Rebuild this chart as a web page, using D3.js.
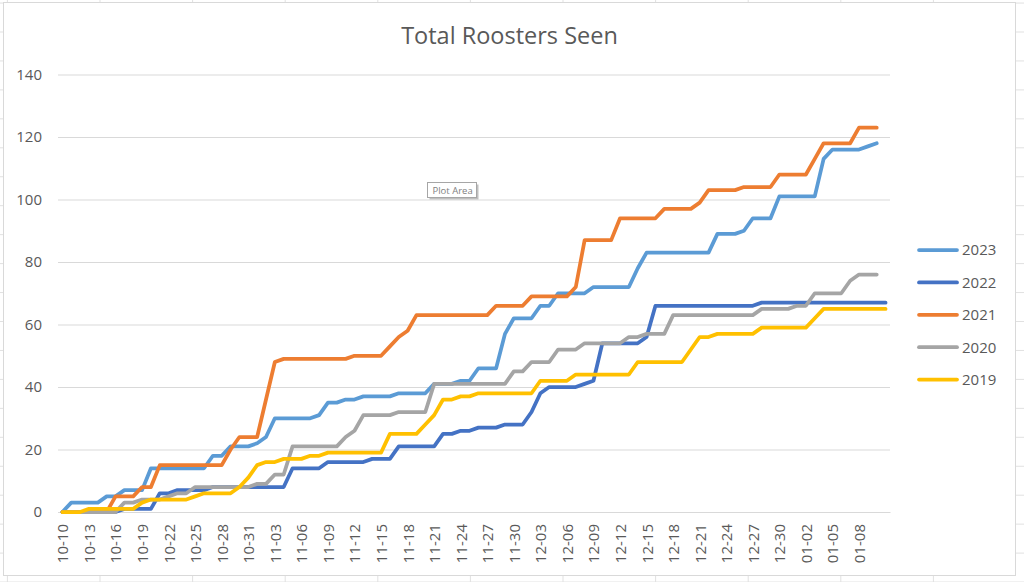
<!DOCTYPE html>
<html>
<head>
<meta charset="utf-8">
<script src="https://cdn.jsdelivr.net/npm/d3@7"></script>
<style>
    body { margin: 0; background: #fff; }
    svg text { font-family: "Open Sans", sans-serif; fill: #595959; }
</style>
</head>
<body>
<div id="chart"></div>
<script>
// categories: one per day, 10-10 through 01-11
const dates = [
    "10-10","10-11","10-12","10-13","10-14","10-15","10-16","10-17","10-18","10-19",
    "10-20","10-21","10-22","10-23","10-24","10-25","10-26","10-27","10-28","10-29",
    "10-30","10-31","11-01","11-02","11-03","11-04","11-05","11-06","11-07","11-08",
    "11-09","11-10","11-11","11-12","11-13","11-14","11-15","11-16","11-17","11-18",
    "11-19","11-20","11-21","11-22","11-23","11-24","11-25","11-26","11-27","11-28",
    "11-29","11-30","12-01","12-02","12-03","12-04","12-05","12-06","12-07","12-08",
    "12-09","12-10","12-11","12-12","12-13","12-14","12-15","12-16","12-17","12-18",
    "12-19","12-20","12-21","12-22","12-23","12-24","12-25","12-26","12-27","12-28",
    "12-29","12-30","12-31","01-01","01-02","01-03","01-04","01-05","01-06","01-07",
    "01-08","01-09","01-10","01-11"
];

// labels shown on the category axis
const tickDates = [
    "10-10","10-13","10-16","10-19","10-22","10-25","10-28","10-31","11-03","11-06",
    "11-09","11-12","11-15","11-18","11-21","11-24","11-27","11-30","12-03","12-06",
    "12-09","12-12","12-15","12-18","12-21","12-24","12-27","12-30","01-02","01-05",
    "01-08"
];

const yTicks = [0, 20, 40, 60, 80, 100, 120, 140];

// running totals per season
const s2023 = [0,3,3,3,3,5,5,7,7,7,
    14,14,14,14,14,14,14,18,18,21,
    21,21,22,24,30,30,30,30,30,31,
    35,35,36,36,37,37,37,37,38,38,
    38,38,41,41,41,42,42,46,46,46,
    57,62,62,62,66,66,70,70,70,70,
    72,72,72,72,72,78,83,83,83,83,
    83,83,83,83,89,89,89,90,94,94,
    94,101,101,101,101,101,113,116,116,116,
    116,117,118];

const s2022 = [0,0,0,0,0,0,0,1,1,1,
    1,6,6,7,7,7,7,8,8,8,
    8,8,8,8,8,8,14,14,14,14,
    16,16,16,16,16,17,17,17,21,21,
    21,21,21,25,25,26,26,27,27,27,
    28,28,28,32,38,40,40,40,40,41,
    42,54,54,54,54,54,56,66,66,66,
    66,66,66,66,66,66,66,66,66,67,
    67,67,67,67,67,67,67,67,67,67,
    67,67,67,67];

const s2021 = [0,0,0,0,0,0,5,5,5,8,
    8,15,15,15,15,15,15,15,15,20,
    24,24,24,36,48,49,49,49,49,49,
    49,49,49,50,50,50,50,53,56,58,
    63,63,63,63,63,63,63,63,63,66,
    66,66,66,69,69,69,69,69,72,87,
    87,87,87,94,94,94,94,94,97,97,
    97,97,99,103,103,103,103,104,104,104,
    104,108,108,108,108,113,118,118,118,118,
    123,123,123];

const s2020 = [0,0,0,0,0,0,0,3,3,4,
    4,4,5,6,6,8,8,8,8,8,
    8,8,9,9,12,12,21,21,21,21,
    21,21,24,26,31,31,31,31,32,32,
    32,32,41,41,41,41,41,41,41,41,
    41,45,45,48,48,48,52,52,52,54,
    54,54,54,54,56,56,57,57,57,63,
    63,63,63,63,63,63,63,63,63,65,
    65,65,65,66,66,70,70,70,70,74,
    76,76,76];

const s2019 = [0,0,0,1,1,1,1,1,1,3,
    4,4,4,4,4,5,6,6,6,6,
    8,11,15,16,16,17,17,17,18,18,
    19,19,19,19,19,19,19,25,25,25,
    25,28,31,36,36,37,37,38,38,38,
    38,38,38,38,42,42,42,42,44,44,
    44,44,44,44,44,48,48,48,48,48,
    48,52,56,56,57,57,57,57,57,59,
    59,59,59,59,59,62,65,65,65,65,
    65,65,65,65];

const seriesNames = ["2023", "2022", "2021", "2020", "2019"];
const seriesValues = [s2023, s2022, s2021, s2020, s2019];
const seriesColors = ["#5b9bd5", "#4472c4", "#ed7d31", "#a5a5a5", "#ffc000"];

const width = 1024, height = 582;
const plot = { left: 58, right: 890, top: 74.5, bottom: 512 };

const svg = d3.select("#chart").append("svg")
    .attr("width", width)
    .attr("height", height);

// spreadsheet cells peeking out behind the chart
const cells = svg.append("g").attr("stroke", "#e1e1e1").attr("stroke-width", 1);
cells.selectAll("line.v")
    .data(d3.range(-1, 11))
    .join("line")
    .attr("x1", d => 100 + d * 92.6).attr("x2", d => 100 + d * 92.6)
    .attr("y1", 0).attr("y2", height);
cells.selectAll("line.h")
    .data(d3.range(-1, 20))
    .join("line")
    .attr("x1", 0).attr("x2", width)
    .attr("y1", d => 32 + d * 28.95).attr("y2", d => 32 + d * 28.95);

// chart area
svg.append("rect")
    .attr("x", 3.5).attr("y", 2.5)
    .attr("width", 1012).attr("height", 573)
    .attr("fill", "#fff")
    .attr("stroke", "#d9d9d9");

svg.append("text")
    .attr("x", 509.5).attr("y", 44)
    .attr("text-anchor", "middle")
    .style("font-size", "23.5px")
    .text("Total Roosters Seen");

// scales
const x = d3.scalePoint()
    .domain(dates)
    .range([plot.left, plot.right])
    .padding(0.5);

const y = d3.scaleLinear()
    .domain([0, 140])
    .range([plot.bottom, plot.top]);

// value axis with gridlines
const yAxis = svg.append("g")
    .attr("transform", `translate(${plot.left},0)`)
    .call(d3.axisLeft(y)
        .tickValues(yTicks)
        .tickSize(-(plot.right - plot.left))
        .tickPadding(16));
yAxis.select(".domain").remove();
yAxis.selectAll(".tick line").attr("stroke", "#d9d9d9").attr("stroke-width", 1.2);
yAxis.selectAll(".tick text")
    .style("font-size", "15px")
    .style("font-family", "'Open Sans', sans-serif")
    .attr("fill", "#595959");

// category axis
const xAxis = svg.append("g")
    .attr("transform", `translate(0,${plot.bottom})`)
    .call(d3.axisBottom(x)
        .tickValues(tickDates)
        .tickSize(0)
        .tickSizeOuter(0));
xAxis.select(".domain").attr("stroke", "#d9d9d9").attr("stroke-width", 1.2);
xAxis.selectAll(".tick text")
    .attr("transform", "rotate(-90)")
    .attr("text-anchor", "end")
    .attr("x", -12)
    .attr("y", 0)
    .attr("dy", "0.36em")
    .style("font-size", "15px")
    .style("font-family", "'Open Sans', sans-serif")
    .attr("fill", "#595959");

// series lines
const line = d3.line()
    .x((d, i) => x(dates[i]))
    .y(d => y(d));

seriesValues.forEach((vals, k) => {
    svg.append("path")
        .datum(vals)
        .attr("fill", "none")
        .attr("stroke", seriesColors[k])
        .attr("stroke-width", 3.75)
        .attr("stroke-linejoin", "round")
        .attr("stroke-linecap", "round")
        .attr("d", line);
});

// legend
const legend = svg.append("g");
seriesNames.forEach((name, k) => {
    const ly = 250 + k * 32.4;
    legend.append("line")
        .attr("x1", 919).attr("x2", 957)
        .attr("y1", ly).attr("y2", ly)
        .attr("stroke", seriesColors[k])
        .attr("stroke-width", 3.75)
        .attr("stroke-linecap", "round");
    legend.append("text")
        .attr("x", 962).attr("y", ly)
        .attr("dy", "0.36em")
        .style("font-size", "15px")
        .text(name);
});

// hover tip left over from the screenshot
const tip = svg.append("g");
tip.append("rect")
    .attr("x", 429.5).attr("y", 184.5)
    .attr("width", 49).attr("height", 15)
    .attr("fill", "#bfbfbf");
tip.append("rect")
    .attr("x", 427.5).attr("y", 182.5)
    .attr("width", 49).attr("height", 15)
    .attr("fill", "#fff")
    .attr("stroke", "#a6a6a6");
tip.append("text")
    .attr("x", 432.5).attr("y", 193.8)
    .style("font-size", "9.5px")
    .attr("fill", "#7f7f7f")
    .style("fill", "#7f7f7f")
    .text("Plot Area");
</script>
</body>
</html>
